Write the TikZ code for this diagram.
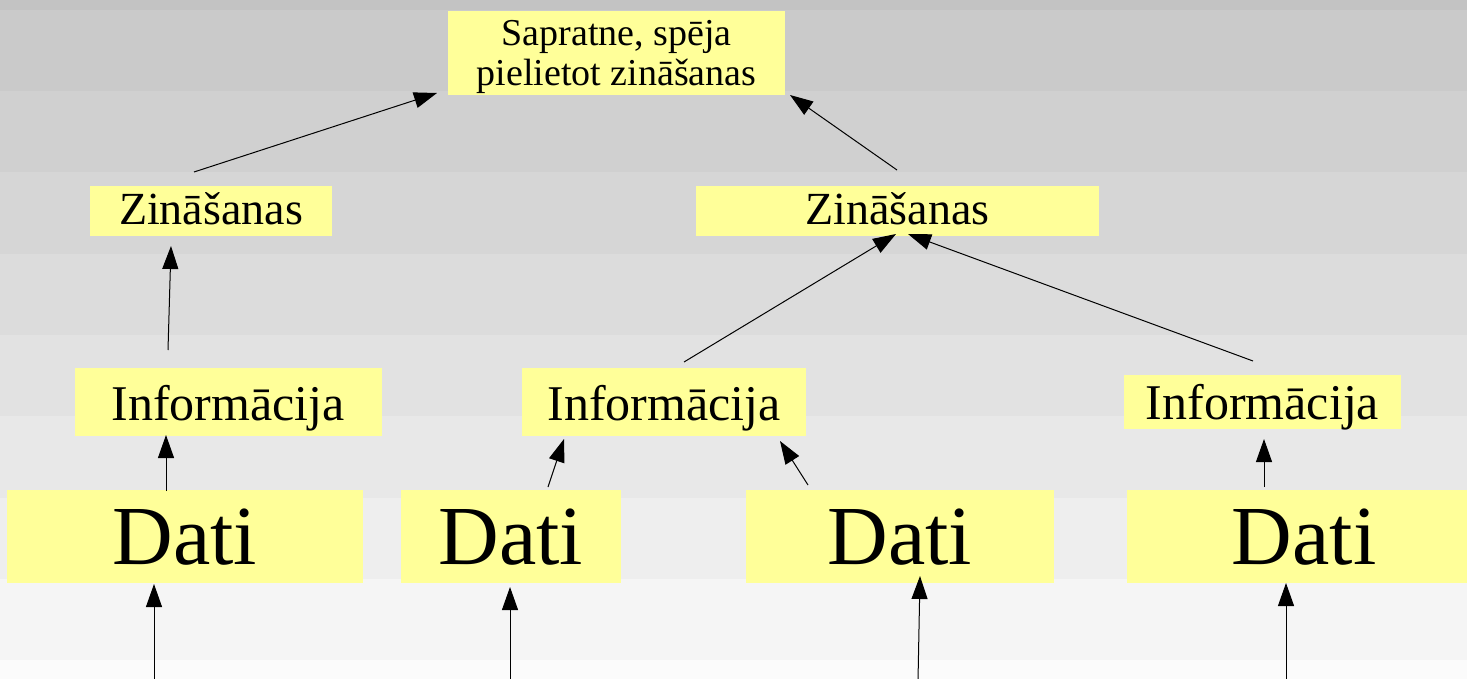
\documentclass[tikz,border=0pt]{standalone}
\usepackage{fontspec}
\setmainfont{Liberation Serif}
\usetikzlibrary{arrows.meta}
\definecolor{boxyellow}{HTML}{FFFF99}
\definecolor{bgA}{RGB}{195,195,195}
\definecolor{bgB}{RGB}{202,202,202}
\definecolor{bgC}{RGB}{208,208,208}
\definecolor{bgD}{RGB}{214,214,214}
\definecolor{bgE}{RGB}{220,220,220}
\definecolor{bgF}{RGB}{226,226,226}
\definecolor{bgG}{RGB}{232,232,232}
\definecolor{bgH}{RGB}{238,238,238}
\definecolor{bgI}{RGB}{245,245,245}
\definecolor{bgJ}{RGB}{251,251,251}
\tikzset{
  box/.style={fill=boxyellow, inner sep=0pt, outer sep=0pt, anchor=north west, align=center},
  toptext/.style={box, font=\fontsize{38}{38}\selectfont},
  zintext/.style={box, font=\fontsize{46}{50}\selectfont, text height=39pt, text depth=11pt},
  infotext/.style={box, font=\fontsize{50}{54}\selectfont},
  datitext/.style={box, font=\fontsize{84}{90}\selectfont, text height=74pt, text depth=19pt},
  conn/.style={line width=1pt, -{Triangle[length=23pt,width=16pt]}}
}
\begin{document}
\begin{tikzpicture}[x=1pt,y=-1pt]
\useasboundingbox (0,0) rectangle (1467,679);
% background bands
\fill[bgA] (0,0) rectangle (1467,10);
\fill[bgB] (0,10) rectangle (1467,91.25);
\fill[bgC] (0,91.25) rectangle (1467,172.5);
\fill[bgD] (0,172.5) rectangle (1467,253.75);
\fill[bgE] (0,253.75) rectangle (1467,335);
\fill[bgF] (0,335) rectangle (1467,416.25);
\fill[bgG] (0,416.25) rectangle (1467,497.5);
\fill[bgH] (0,497.5) rectangle (1467,578.75);
\fill[bgI] (0,578.75) rectangle (1467,660);
\fill[bgJ] (0,660) rectangle (1467,679);

% nodes
\node[toptext, minimum width=337pt, text height=35pt, text depth=49pt] (top) at (448,11)
  {\vtop{\baselineskip=40pt\lineskiplimit=-100pt\lineskip=0pt
   \hbox to 320pt{\hfil Sapratne, spēja\hfil}
   \hbox to 320pt{\hfil pielietot zināšanas\hfil}}};

\node[zintext, minimum width=242pt] (zinL) at (90,186) {Zināšanas};
\node[zintext, minimum width=403pt] (zinR) at (696,186) {Zināšanas};

\node[infotext, minimum width=306.5pt, text height=52pt, text depth=15.5pt] (infoL) at (75,368) {Informācija};
\node[infotext, minimum width=284pt, text height=52pt, text depth=15.5pt] (infoM) at (522,368) {Informācija};
\node[infotext, minimum width=277pt, text height=44pt, text depth=10pt] (infoR) at (1124,375) {Informācija};

\node[datitext, minimum width=356pt] (datiA) at (7,490) {Dati};
\node[datitext, minimum width=220pt] (datiB) at (401,490) {Dati};
\node[datitext, minimum width=308pt] (datiC) at (746,490) {Dati};
\node[datitext, minimum width=354pt] (datiD) at (1127,490) {Dati};

% free ends at the bottom
\coordinate (inA) at (154,681);
\coordinate (inB) at (510,681);
\coordinate (inC) at (918,681);
\coordinate (inD) at (1286,681);

% connectors
\draw[conn] ([shift={(-17,-14)}]zinL.north) -- ([shift={(-179.5,-2)}]top.south);
\draw[conn] ([shift={(-0.5,-16)}]zinR.north) -- ([shift={(173.5,0)}]top.south);
\draw[conn] ([shift={(-60.25,-18)}]infoL.north) -- ([shift={(-40,10)}]zinL.south);
\draw[conn] ([shift={(20,-6)}]infoM.north) -- ([shift={(-1.5,-2)}]zinR.south);
\draw[conn] ([shift={(-9.5,-14)}]infoR.north) -- ([shift={(10.5,-2)}]zinR.south);
\draw[conn] ([shift={(-19,1)}]datiA.north) -- ([shift={(-62.25,-0.5)}]infoL.south);
\draw[conn] ([shift={(37,-3)}]datiB.north) -- ([shift={(-100,3.5)}]infoM.south);
\draw[conn] ([shift={(-92,-5)}]datiC.north) -- ([shift={(116,5.5)}]infoM.south);
\draw[conn] ([shift={(-40,-3)}]datiD.north) -- ([shift={(1.5,10)}]infoR.south);
\draw[conn] (inA) -- ([shift={(-31,1)}]datiA.south);
\draw[conn] (inB) -- ([shift={(-1,4)}]datiB.south);
\draw[conn] (inC) -- ([shift={(20,-7)}]datiC.south);
\draw[conn] (inD) -- ([shift={(-18,0)}]datiD.south);
\end{tikzpicture}
\end{document}
